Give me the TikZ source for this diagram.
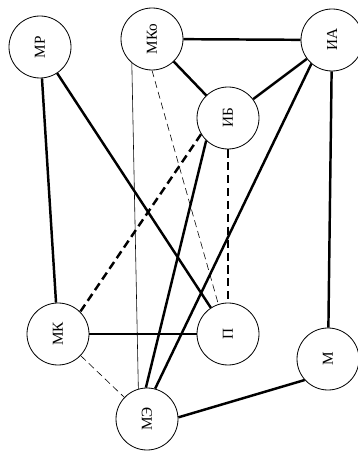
\documentclass[tikz,border=0pt]{standalone}
\usepackage{fontspec}
\setmainfont{Liberation Serif}
\usepackage{tikz}
\usetikzlibrary{positioning}

\newcommand{\vtext}[1]{\rotatebox{90}{#1}}

\begin{document}
\begin{tikzpicture}[
    vertex/.style={circle, draw, line width=0.7pt, minimum size=1.86cm, inner sep=0pt, font=\fontsize{13}{15}\selectfont},
    strong/.style={line width=2.1pt},
    weak/.style={line width=0.5pt},
    strongdash/.style={line width=2.1pt, dash pattern=on 7pt off 4pt},
    weakdash/.style={line width=0.5pt, dash pattern=on 6pt off 3.5pt}
]
\useasboundingbox (0,0) rectangle (10.74,13.62);

% Vertices
\node[vertex] (mr) at (1.20,12.21) {\vtext{МР}};
\node[vertex] (mko) at (4.56,12.45) {\vtext{МКо}};
\node[vertex] (ia) at (9.96,12.42) {\vtext{ИА}};
\node[vertex] (ib) at (6.84,10.08) {\vtext{ИБ}};
\node[vertex] (mk) at (1.74,3.60) {\vtext{МК}};
\node[vertex] (p) at (6.84,3.60) {\vtext{П}};
\node[vertex] (m) at (9.84,2.85) {\vtext{М}};
\node[vertex] (me) at (4.41,1.05) {\vtext{МЭ}};

% Strong links
\draw[strong] (mko) -- (ia);
\draw[strong] (mko) -- (ib);
\draw[strong] (ia) -- (ib);
\draw[strong] (ia.229) -- (me.75);
\draw[strong] (ia) -- (m);
\draw[strong] (mr) -- (mk);
\draw[strong] (mr) -- (p);
\draw[strong] (ib.226) -- (me.92);
\draw[strong] (mk) -- (p);
\draw[strong] (me.3) -- (m.222);

% Dashed links
\draw[strongdash] (ib.211) -- (mk.45);
\draw[strongdash] (ib) -- (p);
\draw[weakdash] (mko.270) -- (p.108);
\draw[weakdash] (mk) -- (me);

% Weak links
\draw[weak] (mko.230) -- (me.106);

\end{tikzpicture}
\end{document}
